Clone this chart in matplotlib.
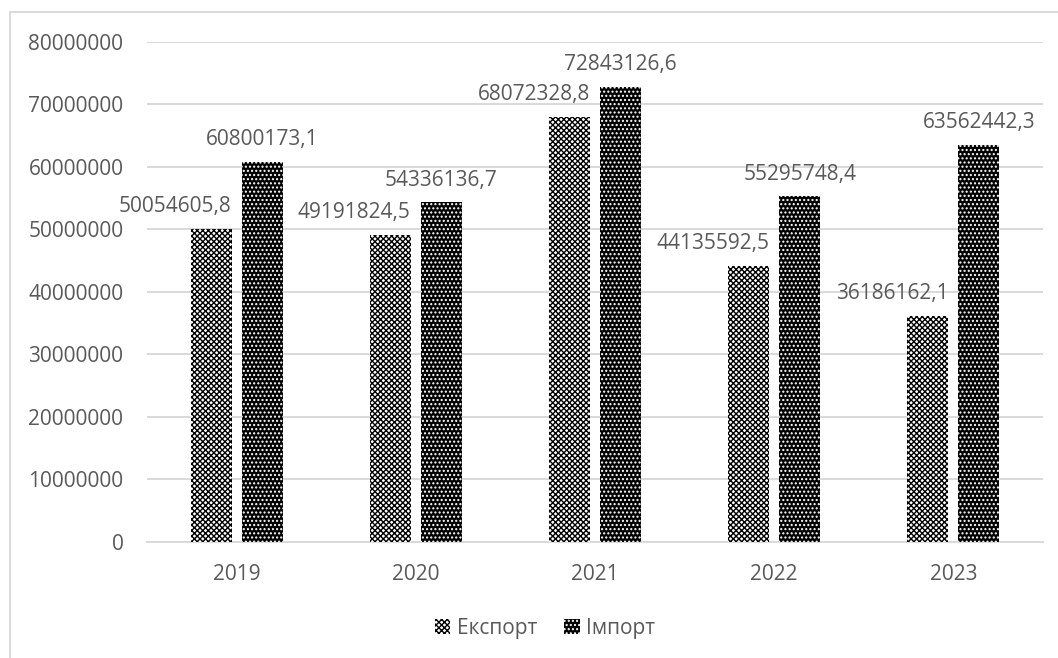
import numpy as np
import matplotlib
matplotlib.use("Agg")
import matplotlib.pyplot as plt
from matplotlib.lines import Line2D

years = ["2019", "2020", "2021", "2022", "2023"]
export_vals = [50054605.8, 49191824.5, 68072328.8, 44135592.5, 36186162.1]
import_vals = [60800173.1, 54336136.7, 72843126.6, 55295748.4, 63562442.3]
series_names = ["Експорт", "Імпорт"]
yticks = [0, 10000000, 20000000, 30000000, 40000000, 50000000, 60000000, 70000000, 80000000]

TEXT = "#595959"
GRID = "#d9d9d9"
FS = 15

plt.rcParams["font.family"] = ["Open Sans", "DejaVu Sans"]
plt.rcParams["hatch.linewidth"] = 1.0

fig = plt.figure(figsize=(10.58, 6.58), dpi=100)
ax = fig.add_axes([0.139, 0.1763, 0.8468, 0.7599])

x = np.arange(len(years))
w = 0.229
off = 0.1425

b1 = ax.bar(x - off, export_vals, width=w, facecolor="white", edgecolor="black",
            hatch="xxxxxx", linewidth=0, label=series_names[0], zorder=3)
b2 = ax.bar(x + off, import_vals, width=w, facecolor="black", edgecolor="white",
            hatch="....", linewidth=0, label=series_names[1], zorder=3)

def fmt(v):
    return f"{v:.1f}".replace(".", ",")

for xi, v in zip(x, export_vals):
    ax.annotate(fmt(v), (xi - off + w / 2, v), xytext=(0, 16), textcoords="offset points",
                ha="right", va="center", fontsize=FS, color=TEXT, zorder=4)
for xi, v in zip(x, import_vals):
    ax.annotate(fmt(v), (xi + off, v), xytext=(0, 16), textcoords="offset points",
                ha="center", va="center", fontsize=FS, color=TEXT, zorder=4)

ax.set_xlim(-0.5, len(years) - 0.5)
ax.set_ylim(0, 80000000)
ax.set_yticks(yticks)
ax.set_yticklabels([str(t) for t in yticks])
ax.set_xticks(x)
ax.set_xticklabels(years)
ax.tick_params(axis="both", length=0, labelsize=FS, labelcolor=TEXT)
ax.tick_params(axis="y", pad=17)
ax.tick_params(axis="x", pad=16)
ax.yaxis.grid(True, color=GRID, linewidth=1.4, zorder=0)
ax.set_axisbelow(True)
for side in ["top", "right", "left"]:
    ax.spines[side].set_visible(False)
ax.spines["bottom"].set_color(GRID)
ax.spines["bottom"].set_linewidth(1.4)

leg = fig.legend(handles=[b1, b2], loc="center", bbox_to_anchor=(0.515, 0.045),
                 ncol=2, frameon=False, fontsize=FS, handlelength=0.75,
                 handleheight=0.75, handletextpad=0.3, columnspacing=1.3)
for t in leg.get_texts():
    t.set_color(TEXT)

# chart frame
fig.add_artist(Line2D([10 / 1058, 10 / 1058], [0, 1 - 12 / 658], transform=fig.transFigure,
                      color=GRID, linewidth=1.4))
fig.add_artist(Line2D([10 / 1058, 1], [1 - 12 / 658, 1 - 12 / 658], transform=fig.transFigure,
                      color=GRID, linewidth=1.4))

fig.savefig("out.png", dpi=100)
